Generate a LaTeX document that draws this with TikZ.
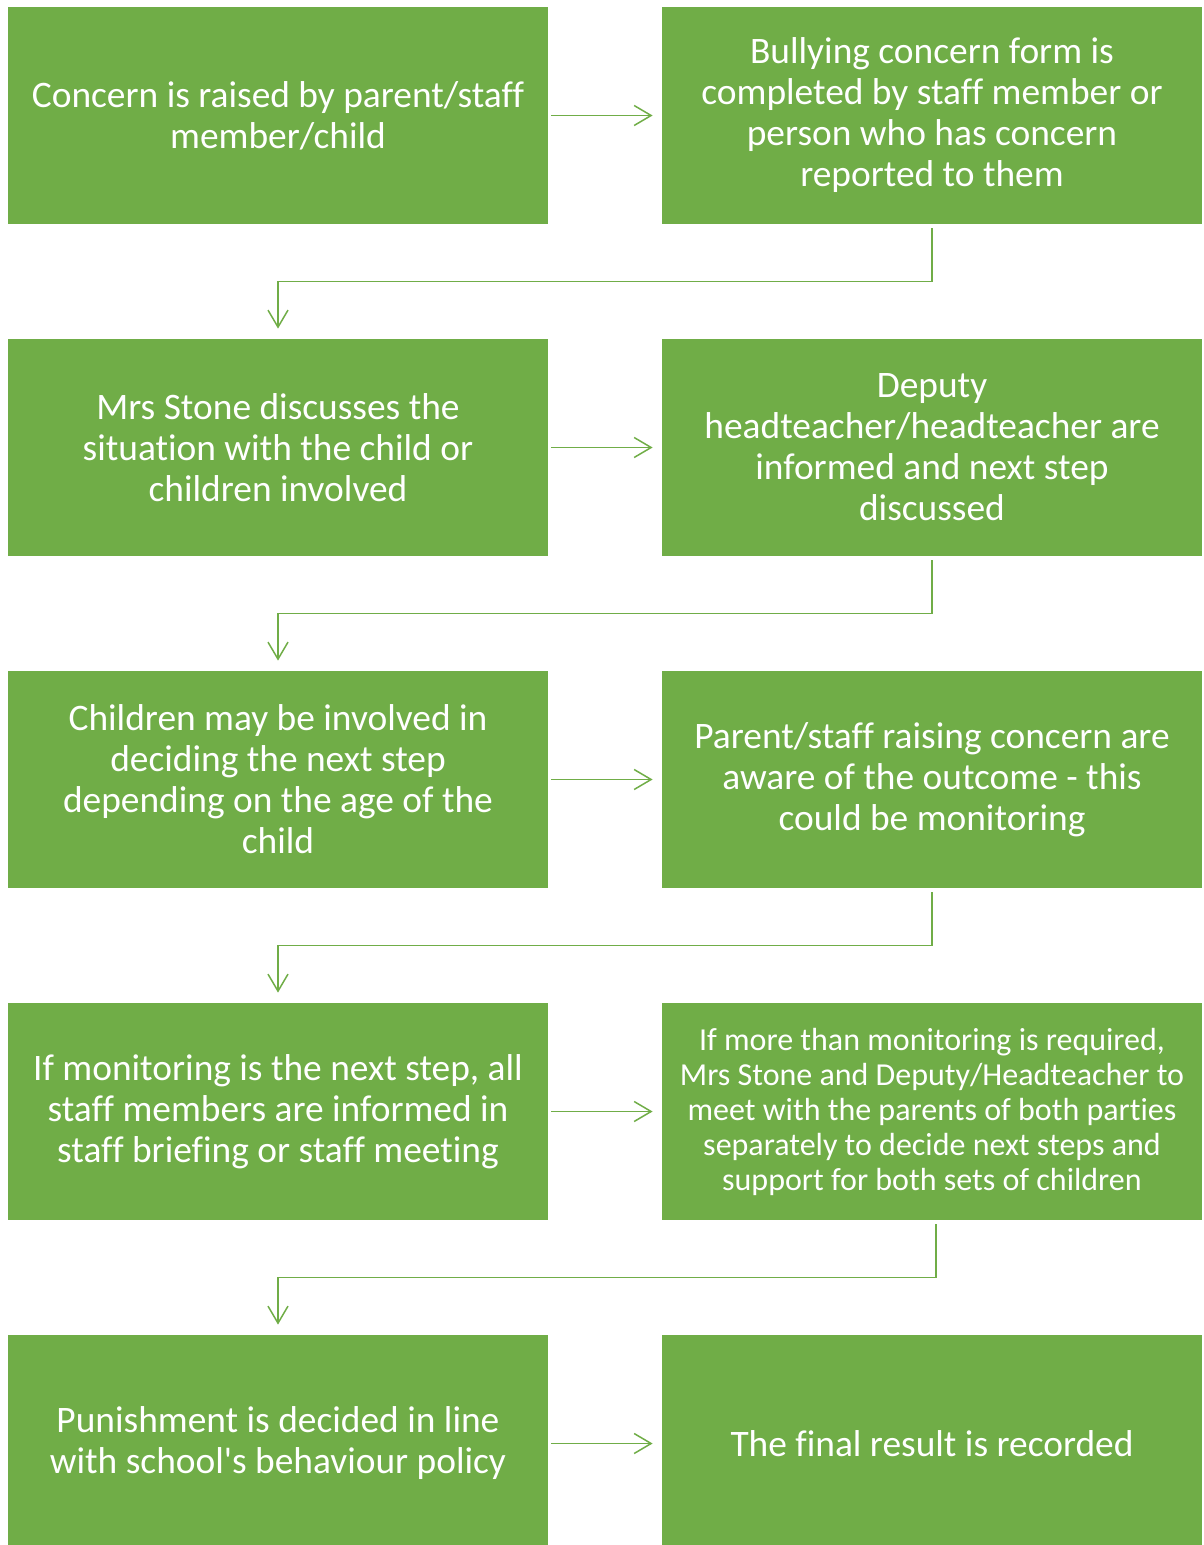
\documentclass[tikz,border=0pt]{standalone}
\usepackage{fontspec}
\setmainfont{Carlito}[Ligatures={TeX,NoCommon}]
\usetikzlibrary{arrows.meta, calc, positioning}
\definecolor{verdeCaja}{RGB}{112,173,71}

\begin{document}
\begin{tikzpicture}[x=0.5pt, y=-0.5pt,
    caja/.style={fill=verdeCaja, draw=none, inner sep=0pt, text=white, align=center,
        minimum width=270pt, minimum height=108.5pt,
        font=\fontsize{18.7}{20.5}\selectfont},
    flecha/.style={draw=verdeCaja, line width=0.75pt,
        -{Straight Barb[length=8.5pt, width=10pt, line width=0.75pt]}}]

    % Marco de la imagen
    \useasboundingbox (0,0) rectangle (1203,1545);

    % Columna izquierda
    \node[caja] (c1) at (278,115.5) {Concern is raised by parent/staff\\member/child};
    \node[caja] (c3) at (278,447.5) {Mrs Stone discusses the\\situation with the child or\\children involved};
    \node[caja] (c5) at (278,779.5) {Children may be involved in\\deciding the next step\\depending on the age of the\\child};
    \node[caja] (c7) at (278,1111.5) {If monitoring is the next step, all\\staff members are informed in\\staff briefing or staff meeting};
    \node[caja] (c9) at (278,1443.5) {Punishment is decided in line\\with school\textquotesingle s behaviour policy};

    % Columna derecha
    \node[caja] (c2) at (932,115.5) {Bullying concern form is\\completed by staff member or\\person who has concern\\reported to them};
    \node[caja] (c4) at (932,447.5) {Deputy\\headteacher/headteacher are\\informed and next step\\discussed};
    \node[caja] (c6) at (932,779.5) {Parent/staff raising concern are\\aware of the outcome - this\\could be monitoring};
    \node[caja, font=\fontsize{16}{17.5}\selectfont] (c8) at (932,1111.5) {If more than monitoring is required,\\Mrs Stone and Deputy/Headteacher to\\meet with the parents of both parties\\separately to decide next steps and\\support for both sets of children};
    \node[caja] (c10) at (932,1443.5) {The final result is recorded};

    % Flechas horizontales
    \foreach \a/\b in {c1/c2, c3/c4, c5/c6, c7/c8, c9/c10}
        \draw[flecha, shorten <=1.5pt, shorten >=4.5pt] (\a.east) -- (\b.west);

    % Conectores en codo hacia la fila siguiente
    \foreach \a/\b in {c2/c3, c4/c5, c6/c7}
        \draw[flecha, shorten <=2pt, shorten >=5pt]
            (\a.south) -- ($(\a.south)!0.5!(\a.south |- \b.north)$) -| (\b.north);
    % el ultimo sale un poco a la derecha
    \draw[flecha, shorten <=2pt, shorten >=5pt]
        ([xshift=2pt]c8.south) -- ($([xshift=2pt]c8.south)!0.5!([xshift=2pt]c8.south |- c9.north)$) -| (c9.north);
\end{tikzpicture}
\end{document}
